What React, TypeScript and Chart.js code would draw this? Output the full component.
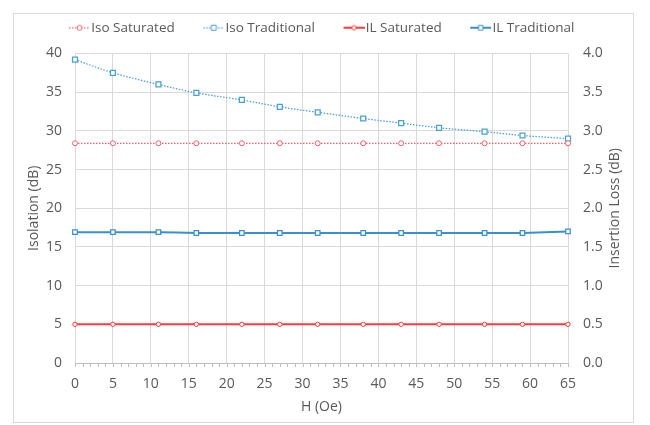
import React, { useEffect, useRef } from "react";
import { Chart, registerables } from "chart.js";

Chart.register(...registerables);

const hValues = [0, 5, 11, 16, 22, 27, 32, 38, 43, 48, 54, 59, 65];
const isoSaturated = [28.4, 28.4, 28.4, 28.4, 28.4, 28.4, 28.4, 28.4, 28.4, 28.4, 28.4, 28.4, 28.4];
const isoTraditional = [39.2, 37.5, 36.0, 34.9, 34.0, 33.1, 32.4, 31.6, 31.0, 30.4, 29.9, 29.4, 29.0];
const ilSaturated = [0.5, 0.5, 0.5, 0.5, 0.5, 0.5, 0.5, 0.5, 0.5, 0.5, 0.5, 0.5, 0.5];
const ilTraditional = [1.69, 1.69, 1.69, 1.68, 1.68, 1.68, 1.68, 1.68, 1.68, 1.68, 1.68, 1.68, 1.7];
const seriesNames = ["Iso Saturated", "Iso Traditional", "IL Saturated", "IL Traditional"];

const xRange = { min: 0, max: 65, step: 5 };
const isoRange = { min: 0, max: 40, step: 5 };
const ilRange = { min: 0, max: 4, step: 0.5 };

const axisTitles = { x: "H (Oe)", y: "Isolation (dB)", y1: "Insertion Loss (dB)" };

const TEXT = "#595959";
const GRID = "#d9d9d9";
const FONT = { family: "'Open Sans', sans-serif", size: 14 };
const LEGEND_FONT = { family: "'Open Sans', sans-serif", size: 13.5 };

const C_ISO_SAT = "#f2606a";
const C_ISO_TRAD = "#4a9fd5";
const C_IL_SAT = "#ff3b3b";
const C_IL_TRAD = "#3a8fcf";

function makeMarker(color: string, dash: number[], lw: number, shape: "circle" | "rect", r: number) {
  const L = 24;
  const seg = 21;
  const W = L + seg;
  const H = 14;
  const c = document.createElement("canvas");
  c.width = W;
  c.height = H;
  const g = c.getContext("2d")!;
  g.strokeStyle = color;
  g.lineWidth = lw;
  g.setLineDash(dash);
  g.beginPath();
  g.moveTo(L, H / 2);
  g.lineTo(W, H / 2);
  g.stroke();
  g.setLineDash([]);
  g.fillStyle = "#fff";
  g.lineWidth = 1;
  const cx = L + seg / 2;
  const cy = H / 2;
  g.beginPath();
  if (shape === "circle") g.arc(cx, cy, r, 0, Math.PI * 2);
  else g.rect(cx - r, cy - r, 2 * r, 2 * r);
  g.fill();
  g.stroke();
  return c;
}

const minorTicks = {
  id: "minorTicks",
  afterDraw(chart: any) {
    const s = chart.scales.x;
    const ctx = chart.ctx;
    ctx.save();
    ctx.strokeStyle = "#bfbfbf";
    ctx.lineWidth = 1;
    for (let v = xRange.min; v <= xRange.max; v += 1) {
      const px = Math.round(s.getPixelForValue(v)) + 0.5;
      ctx.beginPath();
      ctx.moveTo(px, s.top);
      ctx.lineTo(px, s.top + 4);
      ctx.stroke();
    }
    ctx.restore();
  },
};

// right axis title reads bottom-to-top, like the left one
const rightTitle = {
  id: "rightTitle",
  afterDraw(chart: any) {
    const s = chart.scales.y1;
    const area = chart.chartArea;
    const ctx = chart.ctx;
    ctx.save();
    ctx.translate(s.right - 18, (area.top + area.bottom) / 2);
    ctx.rotate(-Math.PI / 2);
    ctx.textAlign = "center";
    ctx.textBaseline = "middle";
    ctx.fillStyle = TEXT;
    ctx.font = `${FONT.size}px ${FONT.family}`;
    ctx.fillText(axisTitles.y1, 0, 0);
    ctx.restore();
  },
};

const legendShift = {
  id: "legendShift",
  afterLayout(chart: any) {
    const l = chart.legend;
    if (l) {
      l.top -= 9;
      l.bottom -= 9;
      l.left -= 11;
      l.right -= 11;
    }
  },
};

export default function App() {
  const ref = useRef<HTMLCanvasElement>(null);
  useEffect(() => {
    const canvas = ref.current!;
    const markers = [
      makeMarker(C_ISO_SAT, [1.5, 1.5], 1.25, "circle", 2.5),
      makeMarker(C_ISO_TRAD, [1.5, 1.5], 1.25, "rect", 2.5),
      makeMarker(C_IL_SAT, [], 2, "circle", 2.2),
      makeMarker(C_IL_TRAD, [], 2, "rect", 2.3),
    ];
    const pts = (arr: number[]) => hValues.map((h, i) => ({ x: h, y: arr[i] }));
    const chart = new Chart(canvas, {
      type: "line",
      data: {
        datasets: [
          {
            label: seriesNames[0],
            data: pts(isoSaturated),
            yAxisID: "y",
            borderColor: C_ISO_SAT,
            borderWidth: 1.25,
            borderDash: [1.5, 1.5],
            pointStyle: "circle",
            pointRadius: 2.5,
            pointBorderWidth: 1,
            pointBackgroundColor: "#fff",
            pointBorderColor: C_ISO_SAT,
            clip: false,
          },
          {
            label: seriesNames[1],
            data: pts(isoTraditional),
            yAxisID: "y",
            borderColor: C_ISO_TRAD,
            borderWidth: 1.25,
            borderDash: [1.5, 1.5],
            tension: 0.3,
            pointStyle: "rect",
            pointRadius: 3.5,
            pointBorderWidth: 1.25,
            pointBackgroundColor: "#fff",
            pointBorderColor: C_ISO_TRAD,
            clip: false,
          },
          {
            label: seriesNames[2],
            data: pts(ilSaturated),
            yAxisID: "y1",
            borderColor: C_IL_SAT,
            borderWidth: 2,
            pointStyle: "circle",
            pointRadius: 2.2,
            pointBorderWidth: 1,
            pointBackgroundColor: "#fff",
            pointBorderColor: C_IL_SAT,
            clip: false,
          },
          {
            label: seriesNames[3],
            data: pts(ilTraditional),
            yAxisID: "y1",
            borderColor: C_IL_TRAD,
            borderWidth: 2,
            tension: 0.2,
            pointStyle: "rect",
            pointRadius: 3.2,
            pointBorderWidth: 1.25,
            pointBackgroundColor: "#fff",
            pointBorderColor: C_IL_TRAD,
            clip: false,
          },
        ],
      },
      options: {
        responsive: false,
        animation: false,
        layout: { padding: { top: 6, left: 0, right: 0, bottom: 0 } },
        plugins: {
          tooltip: { enabled: false },
          legend: {
            position: "top",
            align: "center",
            labels: {
              usePointStyle: true,
              pointStyleWidth: 34,
              padding: 10,
              color: TEXT,
              font: LEGEND_FONT,
              generateLabels: (ch: any) => {
                const items = (Chart.defaults.plugins.legend.labels as any).generateLabels(ch);
                return items.map((it: any, i: number) => ({ ...it, pointStyle: markers[i], fontColor: TEXT }));
              },
            },
          },
        },
        scales: {
          x: {
            type: "linear",
            position: "bottom",
            min: xRange.min,
            max: xRange.max,
            ticks: { stepSize: xRange.step, color: TEXT, font: FONT, padding: 13 },
            grid: { color: GRID, drawTicks: false },
            border: { color: "#bfbfbf" },
            title: { display: true, text: axisTitles.x, color: TEXT, font: FONT, padding: { top: 0, bottom: 7 } },
            afterFit: (s: any) => {
              s.height = 59;
            },
          },
          y: {
            type: "linear",
            position: "left",
            min: isoRange.min,
            max: isoRange.max,
            ticks: { stepSize: isoRange.step, color: TEXT, font: FONT, padding: 13 },
            grid: { color: GRID, drawTicks: false },
            border: { display: false },
            title: { display: true, text: axisTitles.y, color: TEXT, font: FONT, padding: { top: 12, bottom: 0 } },
            afterFit: (s: any) => {
              s.width = 61;
            },
          },
          y1: {
            type: "linear",
            position: "right",
            min: ilRange.min,
            max: ilRange.max,
            ticks: {
              stepSize: ilRange.step,
              color: TEXT,
              font: FONT,
              padding: 15,
              callback: (v: any) => Number(v).toFixed(1),
            },
            grid: { display: false, drawTicks: false },
            border: { display: false },
            title: { display: false },
            afterFit: (s: any) => {
              s.width = 65;
            },
          },
        },
      } as any,
      plugins: [minorTicks, rightTitle, legendShift],
    });
    return () => chart.destroy();
  }, []);
  return (
    <div style={{ padding: "5px 0 0 5px" }}>
      <div
        style={{
          width: 621,
          height: 410,
          border: "1px solid #d9d9d9",
          boxSizing: "border-box",
          background: "#fff",
        }}
      >
        <canvas ref={ref} width={619} height={408} style={{ display: "block", width: 619, height: 408 }} />
      </div>
    </div>
  );
}
